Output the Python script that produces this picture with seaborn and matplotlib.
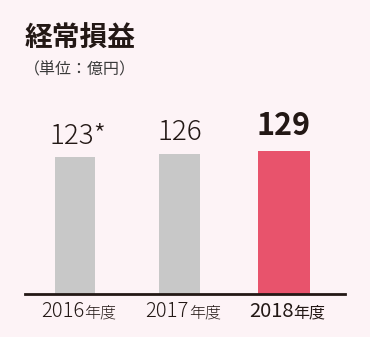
import matplotlib
matplotlib.use("Agg")
import matplotlib.pyplot as plt
import seaborn as sns
import pandas as pd

years = ["2016", "2017", "2018"]
values = [123, 126, 129]
value_labels = ["123*", "126", "129"]
year_suffix = "年度"
title = "経常損益"
subtitle = "（単位：億円）"

bg = "#FDF3F6"
bar_colors = ["#C8C8C8", "#C8C8C8", "#E8536C"]
dark = "#231815"

sns.set_theme(style="white")
plt.rcParams['font.family'] = ['Noto Sans CJK JP', 'DejaVu Sans']

W, H = 370, 337
fig = plt.figure(figsize=(W / 100, H / 100), dpi=100, facecolor=bg)
ax = fig.add_axes([25 / W, (H - 293.5) / H, 320 / W, 193.5 / H])
ax.set_facecolor(bg)

df = pd.DataFrame({"year": years, "value": values})
sns.barplot(data=df, x="year", y="value", hue="year", palette=bar_colors,
            legend=False, width=0.39, saturation=1, linewidth=0, ax=ax)

# widen the highlighted bar
p = ax.patches[2]
cx = p.get_x() + p.get_width() / 2
p.set_width(0.49)
p.set_x(cx - 0.245)

ax.set_xlim(-0.478, 2.584)
ax.set_ylim(0, 174.8)
for s in ["top", "right", "left"]:
    ax.spines[s].set_visible(False)
ax.spines["bottom"].set_color(dark)
ax.spines["bottom"].set_linewidth(2)
ax.set_yticks([])
ax.set_xticks([])
ax.set_xlabel("")
ax.set_ylabel("")

# value labels
for i, (v, lab) in enumerate(zip(values, value_labels)):
    if i == 2:
        ax.text(i, v + 8, lab, ha="center", va="bottom", fontsize=22,
                fontweight="bold", color=dark)
    else:
        ax.text(i + (0.03 if lab.endswith("*") else 0), v + 7, lab, ha="center",
                va="bottom", fontsize=20, fontweight="light", color=dark)

# category labels
from matplotlib.transforms import blended_transform_factory
tr = blended_transform_factory(ax.transData, fig.transFigure)
for i, y in enumerate(years):
    w = "normal" if i == 2 else "light"
    ax.text(i + 0.09, (H - 317) / H, y, ha="right", va="baseline", fontsize=14.5,
            color=dark, fontweight=w, transform=tr)
    ax.text(i + 0.09, (H - 317) / H, year_suffix, ha="left", va="baseline", fontsize=11.5,
            color=dark, fontweight=w, transform=tr)

fig.text(25 / W, (H - 47) / H, title, ha="left", va="baseline", fontsize=20,
         fontweight="bold", color=dark)
fig.text(24 / W, (H - 74) / H, subtitle, ha="left", va="baseline", fontsize=11.5,
         color="#3a3a3a")

fig.savefig("out.png", dpi=100, facecolor=bg)
